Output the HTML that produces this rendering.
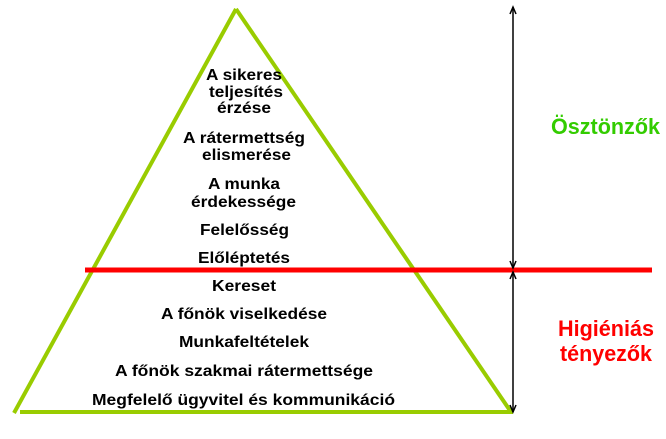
<!DOCTYPE html>
<html><head><meta charset="utf-8"><style>
html,body{margin:0;padding:0;background:#fff;width:666px;height:439px;overflow:hidden}
svg{display:block}
text{font-family:"Liberation Sans",Arial,sans-serif;font-weight:bold}
</style></head><body>
<svg width="666" height="439" viewBox="0 0 666 439">
<g stroke="#99cc00" stroke-width="4" fill="none">
<line x1="236" y1="9" x2="14" y2="413"/>
<line x1="236" y1="9" x2="511" y2="412"/>
<line x1="20" y1="412" x2="513" y2="412"/>
</g>
<line x1="85" y1="270" x2="652" y2="270" stroke="#ff0000" stroke-width="5"/>
<g stroke="#000" stroke-width="1.5" fill="none">
<line x1="513" y1="7" x2="513" y2="268"/>
<line x1="513" y1="272" x2="513" y2="412"/>
<polyline points="510,14 513,7 516,14"/>
<polyline points="510,261 513,268 516,261"/>
<polyline points="510,279 513,272 516,279"/>
<polyline points="510,405 513,412 516,405"/>
</g>
<g font-size="16" fill="#000" lengthAdjust="spacingAndGlyphs">
<text x="206" y="80" textLength="76" lengthAdjust="spacingAndGlyphs">A sikeres</text>
<text x="209" y="97" textLength="74" lengthAdjust="spacingAndGlyphs">teljesítés</text>
<text x="217" y="113" textLength="54" lengthAdjust="spacingAndGlyphs">érzése</text>
<text x="183" y="143" textLength="122" lengthAdjust="spacingAndGlyphs">A rátermettség</text>
<text x="202" y="160" textLength="89" lengthAdjust="spacingAndGlyphs">elismerése</text>
<text x="208" y="189" textLength="72" lengthAdjust="spacingAndGlyphs">A munka</text>
<text x="191" y="207" textLength="105" lengthAdjust="spacingAndGlyphs">érdekessége</text>
<text x="200" y="235" textLength="89" lengthAdjust="spacingAndGlyphs">Felelősség</text>
<text x="198" y="263" textLength="92" lengthAdjust="spacingAndGlyphs">Előléptetés</text>
<text x="212" y="291" textLength="64" lengthAdjust="spacingAndGlyphs">Kereset</text>
<text x="161" y="319" textLength="166" lengthAdjust="spacingAndGlyphs">A főnök viselkedése</text>
<text x="179" y="347" textLength="130" lengthAdjust="spacingAndGlyphs">Munkafeltételek</text>
<text x="115" y="376" textLength="258" lengthAdjust="spacingAndGlyphs">A főnök szakmai rátermettsége</text>
<text x="92" y="405" textLength="303" lengthAdjust="spacingAndGlyphs">Megfelelő ügyvitel és kommunikáció</text>
</g>
<g font-size="22">
<text x="551" y="134" fill="#33cc00" textLength="109" lengthAdjust="spacingAndGlyphs">Ösztönzők</text>
<text x="558" y="336" fill="#ff0000" textLength="96" lengthAdjust="spacingAndGlyphs">Higiéniás</text>
<text x="560" y="361" fill="#ff0000" textLength="92" lengthAdjust="spacingAndGlyphs">tényezők</text>
</g>
</svg>
</body></html>
